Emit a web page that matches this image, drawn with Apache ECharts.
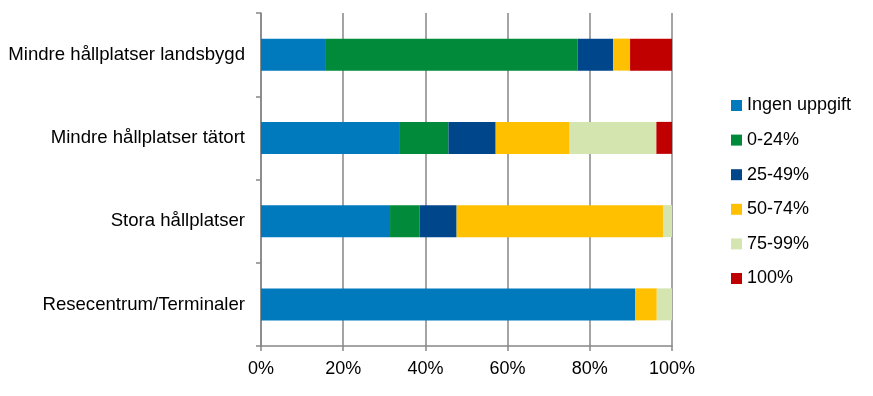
<!DOCTYPE html>
<html>
<head>
<meta charset="utf-8">
<script src="https://cdn.jsdelivr.net/npm/echarts@6/dist/echarts.min.js"></script>
<style>
  html, body { margin: 0; padding: 0; background: #fff; }
  #chart { width: 873px; height: 396px; }
</style>
</head>
<body>
<div id="chart"></div>
<script>
// categories, top to bottom
const categories = [
  "Mindre hållplatser landsbygd",
  "Mindre hållplatser tätort",
  "Stora hållplatser",
  "Resecentrum/Terminaler"
];

// share (%) per group, same order as categories
const ingenUppgift = [15.8, 33.6, 31.4, 91.0];
const p0_24 = [61.2, 12.0, 7.2, 0];
const p25_49 = [8.7, 11.5, 9.0, 0];
const p50_74 = [4.1, 18.0, 50.2, 5.3];
const p75_99 = [0, 21.1, 2.2, 3.7];
const p100 = [10.2, 3.8, 0, 0];

const seriesNames = ["Ingen uppgift", "0-24%", "25-49%", "50-74%", "75-99%", "100%"];
const seriesData = [ingenUppgift, p0_24, p25_49, p50_74, p75_99, p100];
const colors = ["#0079BD", "#008A3A", "#00468B", "#FFC000", "#D5E5B0", "#C00000"];

const xTicks = [0, 20, 40, 60, 80, 100];

const chart = echarts.init(document.getElementById("chart"));

chart.setOption({
  animation: false,
  color: colors,
  textStyle: { fontFamily: "Liberation Sans, Arial, sans-serif", color: "#000" },
  grid: { left: 261, right: 201, top: 13, bottom: 50 },
  legend: {
    orient: "vertical",
    left: 731,
    top: 95,
    padding: 0,
    itemWidth: 11,
    itemHeight: 11,
    itemGap: 13.6,
    icon: "rect",
    textStyle: { fontSize: 18, color: "#000", lineHeight: 21 },
    data: seriesNames
  },
  xAxis: {
    type: "value",
    min: 0,
    max: 100,
    interval: 20,
    axisLine: { show: true, lineStyle: { color: "#868686", width: 1.5 } },
    axisTick: { show: true, length: 5, lineStyle: { color: "#868686", width: 1.5 } },
    splitLine: { show: true, lineStyle: { color: "#868686", width: 1.5 } },
    axisLabel: {
      fontSize: 18,
      color: "#000",
      margin: 14,
      formatter: v => (xTicks.includes(v) ? v + "%" : "")
    }
  },
  yAxis: {
    type: "category",
    inverse: true,
    data: categories,
    axisLine: { show: true, lineStyle: { color: "#868686", width: 1.5 } },
    axisTick: { show: true, length: 5, lineStyle: { color: "#868686", width: 1.5 } },
    axisLabel: { fontSize: 18.6, color: "#000", margin: 16 }
  },
  series: seriesNames.map((name, i) => ({
    name: name,
    type: "bar",
    stack: "total",
    barWidth: 32,
    data: seriesData[i]
  }))
});
</script>
</body>
</html>
